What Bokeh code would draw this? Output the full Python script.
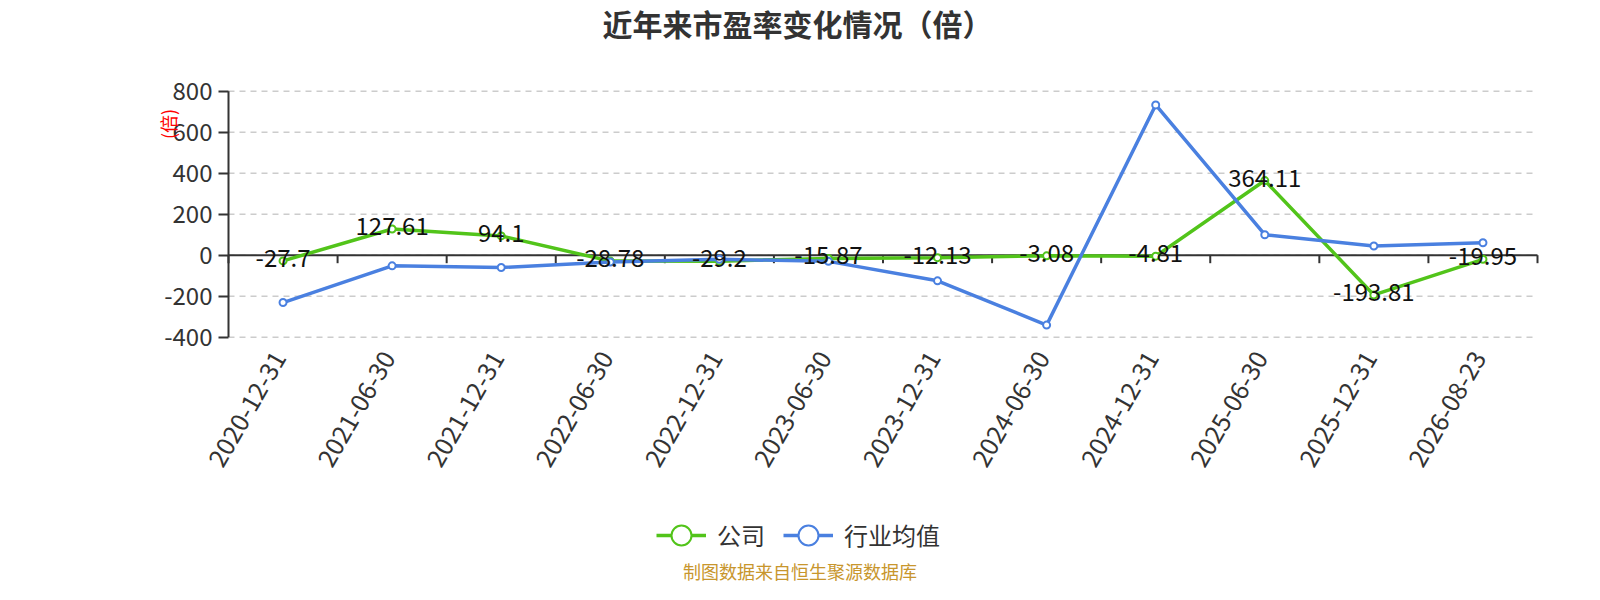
import math
from bokeh.plotting import figure
from bokeh.models import (Range1d, FixedTicker, Legend, LegendItem,
                          ColumnDataSource, Label)
from bokeh.embed import file_html
from bokeh.resources import INLINE
from bokeh.core.properties import value

# ---------------- data ----------------
dates = ["2020-12-31", "2021-06-30", "2021-12-31", "2022-06-30", "2022-12-31",
         "2023-06-30", "2023-12-31", "2024-06-30", "2024-12-31", "2025-06-30",
         "2025-12-31", "2026-08-23"]
company = [-27.7, 127.61, 94.1, -28.78, -29.2, -15.87, -12.13, -3.08, -4.81,
           364.11, -193.81, -19.95]
industry = [-231, -52, -60, -33, -20, -30, -125, -341, 733, 100, 45, 61]
y_ticks = [-400, -200, 0, 200, 400, 600, 800]
series_names = ["公司", "行业均值"]
title_text = "近年来市盈率变化情况（倍）"
unit_text = "(倍)"
source_text = "制图数据来自恒生聚源数据库"

GREEN = "#52C41A"
BLUE = "#4A80E0"
FONT = "Noto Sans CJK SC"
TXT = "#333333"

# ---------------- layout (pixels on the canvas) ----------------
W, H = 1584, 584
FL, FT, FR, FB = 100, 4, W, H          # frame box
AX_L, AX_R = 228, 1537                 # plot area left / right
AX_T, AX_B = 90.7, 336.7               # y of top / bottom tick

n = len(dates)
ppx = (AX_R - AX_L) / n
ppy = (AX_B - AX_T) / (y_ticks[-1] - y_ticks[0])
x_rng = Range1d(-0.5 - (AX_L - FL) / ppx, n - 0.5 + (FR - AX_R) / ppx)
y_rng = Range1d(y_ticks[0] - (FB - AX_B) / ppy, y_ticks[-1] + (AX_T - FT) / ppy)

x = list(range(n))
src = ColumnDataSource(dict(x=x, company=company, industry=industry,
                            lab=[str(v) for v in company], date=dates,
                            ybot=[y_ticks[0]] * n))
edges = [i - 0.5 for i in range(n + 1)]

p = figure(width=W, height=H, output_backend="svg", toolbar_location=None,
           x_range=x_rng, y_range=y_rng, x_axis_location=None,
           min_border_left=FL, min_border_right=0,
           min_border_top=FT, min_border_bottom=0)
p.outline_line_color = None
p.background_fill_color = "white"
p.border_fill_color = "white"
p.xgrid.visible = False
p.ygrid.visible = False

# dashed horizontal grid lines across the plot area
p.segment(x0=[edges[0]] * len(y_ticks), x1=[edges[-1]] * len(y_ticks),
          y0=y_ticks, y1=y_ticks, line_color="#cccccc", line_width=1.5,
          line_dash="6 5")

# y axis (drawn at the left edge of the plot area)
ya = p.yaxis[0]
ya.fixed_location = edges[0]
ya.ticker = FixedTicker(ticks=y_ticks)
ya.major_label_overrides = {t: str(t) for t in y_ticks}
ya.axis_line_color = None
ya.major_tick_line_color = TXT
ya.major_tick_line_width = 2
ya.major_tick_out = 10
ya.major_tick_in = 0
ya.minor_tick_line_color = None
ya.major_label_standoff = 6
ya.major_label_text_font = FONT
ya.major_label_text_font_size = "24px"
ya.major_label_text_color = TXT
p.segment(x0=[edges[0]], x1=[edges[0]], y0=[y_ticks[0]], y1=[y_ticks[-1]],
          line_color=TXT, line_width=2)

# x axis line at zero with ticks between categories
p.segment(x0=[edges[0]], x1=[edges[-1]], y0=[0], y1=[0],
          line_color=TXT, line_width=2)
p.ray(x=edges, y=[0] * len(edges), length=8, length_units="screen",
      angle=-math.pi / 2, line_color=TXT, line_width=2)

# category labels below the plot area
p.text("x", "ybot", text="date", source=src, angle=math.pi / 3,
       text_align="right", text_baseline="middle", x_offset=-4, y_offset=16,
       text_font=value(FONT), text_font_size="25px", text_color=TXT)

# series
g_line = p.line("x", "company", source=src, line_color=GREEN, line_width=3.5)
b_line = p.line("x", "industry", source=src, line_color=BLUE, line_width=3.5)
g_mark = p.scatter("x", "company", source=src, size=7, fill_color="white",
                   line_color=GREEN, line_width=2)
b_mark = p.scatter("x", "industry", source=src, size=7, fill_color="white",
                   line_color=BLUE, line_width=2)

p.text("x", "company", text="lab", source=src, text_align="center",
       text_baseline="middle", y_offset=-3, text_font=value(FONT),
       text_font_size="24px", text_color="#111111")

# legend
GH = 56
legend = Legend(items=[LegendItem(label=series_names[0], renderers=[g_line, g_mark]),
                       LegendItem(label=series_names[1], renderers=[b_line, b_mark])],
                location=(656 - FL, FB - (534.7 + GH / 2)),
                orientation="horizontal",
                glyph_width=50, glyph_height=GH, label_standoff=11, spacing=18,
                padding=0, margin=0, border_line_alpha=0,
                background_fill_alpha=0,
                label_text_font=FONT, label_text_font_size="24px",
                label_text_color=TXT)
p.add_layout(legend)

# title / unit / source note
def screen_label(cx, cy, text, **kw):
    return Label(x=cx - FL, y=FB - cy, x_units="screen", y_units="screen",
                 text=text, text_align="center", text_baseline="middle",
                 text_font=FONT, **kw)

p.add_layout(screen_label(797, 22.5, title_text, text_font_size="30px",
                          text_font_style="bold", text_color=TXT))
p.add_layout(screen_label(167.5, 123.5, unit_text, angle=math.pi / 2,
                          text_font_size="18px", text_color="#ff0000"))
p.add_layout(screen_label(799.5, 570, source_text, text_font_size="18px",
                          text_color="#C8962D"))

open("out.html", "w").write(file_html(p, INLINE))
